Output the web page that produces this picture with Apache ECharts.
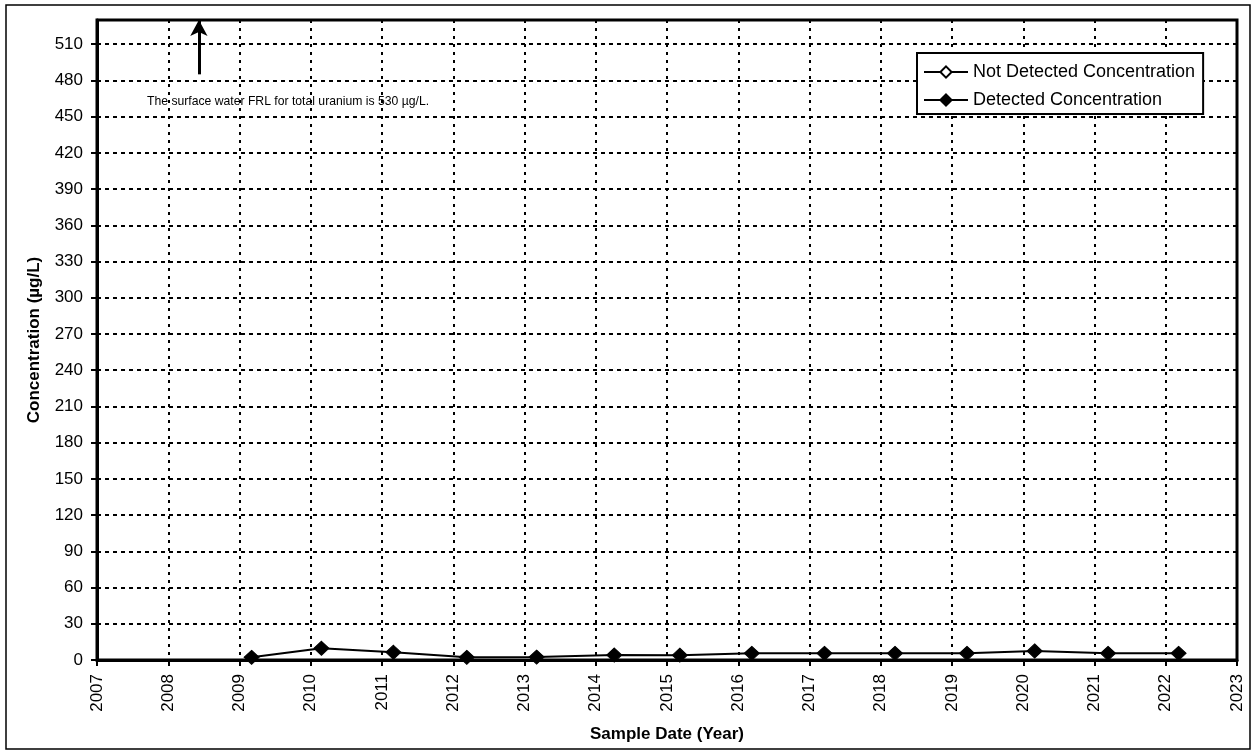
<!DOCTYPE html>
<html>
<head>
<meta charset="utf-8">
<script src="https://cdn.jsdelivr.net/npm/echarts@6/dist/echarts.min.js"></script>
<style>
html,body{margin:0;padding:0;background:#fff;}
#c{width:1257px;height:751px;}
</style>
</head>
<body>
<div id="c"></div>
<script>
// Data
var sampleDates = [2009.17, 2010.15, 2011.16, 2012.19, 2013.17, 2014.26, 2015.18, 2016.19, 2017.21, 2018.20, 2019.21, 2020.16, 2021.19, 2022.18];
var detectedValues = [2.2, 9.7, 6.4, 2.2, 2.4, 4.1, 4.0, 5.5, 5.5, 5.5, 5.5, 7.5, 5.5, 5.5];
var notDetectedDates = [];
var notDetectedValues = [];
var frlValue = 530;
var yTicks = {min: 0, max: 530, interval: 30};
var xTicks = {min: 2007, max: 2023, interval: 1};
var noteText = 'The surface water FRL for total uranium is 530 \u00b5g/L.';

var detectedData = sampleDates.map(function (d, i) { return [d, detectedValues[i]]; });
var notDetectedData = notDetectedDates.map(function (d, i) { return [d, notDetectedValues[i]]; });

var FONT = '"Liberation Sans", Arial, sans-serif';
var chart = echarts.init(document.getElementById('c'), null, {renderer: 'canvas'});
chart.setOption({
  animation: false,
  backgroundColor: '#fff',
  textStyle: {fontFamily: FONT, color: '#000'},
  grid: {left: 97, right: 20, top: 20, bottom: 91, show: true, borderColor: '#000', borderWidth: 3, backgroundColor: 'transparent'},
  legend: {
    left: 917, top: 53, orient: 'vertical',
    backgroundColor: '#fff', borderColor: '#000', borderWidth: 2,
    padding: [10, 8, 5, 6], itemGap: 10,
    itemWidth: 44, itemHeight: 14,
    textStyle: {fontFamily: FONT, fontSize: 18, color: '#000'},
    data: ['Not Detected Concentration', 'Detected Concentration']
  },
  xAxis: {
    type: 'value', min: xTicks.min, max: xTicks.max, interval: xTicks.interval,
    name: 'Sample Date (Year)', nameLocation: 'middle', nameGap: 66,
    nameTextStyle: {fontFamily: FONT, fontSize: 17, fontWeight: 'bold', color: '#000'},
    axisLine: {lineStyle: {color: '#000', width: 3}},
    axisTick: {show: true, length: 6, lineStyle: {color: '#000', width: 2}},
    axisLabel: {rotate: 90, fontSize: 17, color: '#000', margin: 14, formatter: function (v) { return String(v); }},
    splitLine: {show: true, lineStyle: {color: '#000', width: 2, type: [3, 5]}}
  },
  yAxis: {
    type: 'value', min: yTicks.min, max: yTicks.max, interval: yTicks.interval,
    name: 'Concentration (\u00b5g/L)', nameLocation: 'middle', nameGap: 54,
    nameTextStyle: {fontFamily: FONT, fontSize: 17, fontWeight: 'bold', color: '#000'},
    axisLine: {show: true, lineStyle: {color: '#000', width: 3}},
    axisTick: {show: true, length: 6, lineStyle: {color: '#000', width: 2}},
    axisLabel: {fontSize: 17, color: '#000', margin: 14, showMaxLabel: false},
    splitLine: {show: true, lineStyle: {color: '#000', width: 2, type: [4, 4]}}
  },
  series: [
    {
      name: 'Not Detected Concentration', type: 'line', data: notDetectedData,
      symbol: 'diamond', symbolSize: [15, 14],
      lineStyle: {color: '#000', width: 2},
      itemStyle: {color: '#fff', borderColor: '#000', borderWidth: 2}
    },
    {
      name: 'Detected Concentration', type: 'line', data: detectedData,
      symbol: 'diamond', symbolSize: [15, 14],
      lineStyle: {color: '#000', width: 2},
      itemStyle: {color: '#000', borderColor: '#000', borderWidth: 1},
      markLine: {
        silent: true, animation: false,
        lineStyle: {color: '#000', width: 3, type: 'solid'},
        label: {show: false},
        symbolSize: [13, 16],
        data: [[
          {coord: [2008.43, 485], symbol: 'none'},
          {coord: [2008.43, frlValue], symbol: 'arrow'}
        ]]
      }
    }
  ],
  graphic: [
    {type: 'rect', silent: true, shape: {x: 6, y: 5, width: 1244, height: 744}, style: {fill: 'none', stroke: '#000', lineWidth: 1.5}, z: -1},
    {type: 'text', left: 147, top: 96, style: {text: noteText, font: '12.2px ' + FONT, fill: '#000'}}
  ]
});
</script>
</body>
</html>
